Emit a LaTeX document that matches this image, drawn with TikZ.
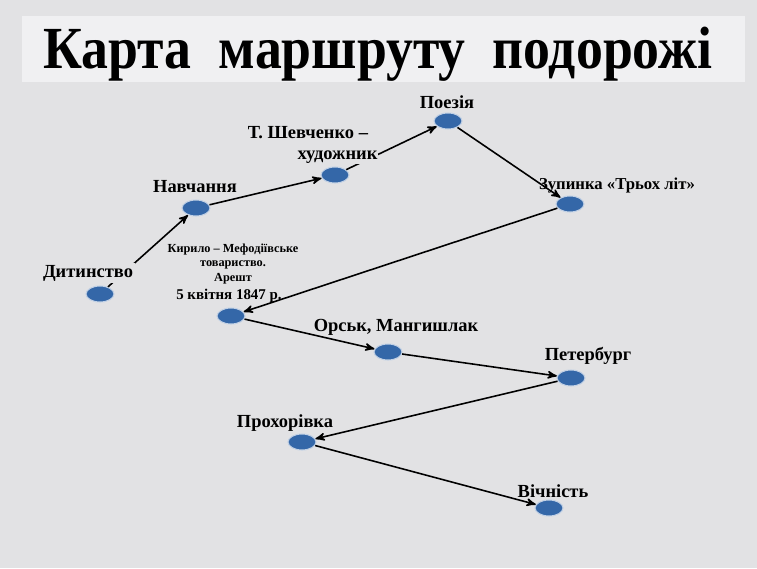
\documentclass[tikz,border=0pt]{standalone}
\usepackage{fontspec}
\setmainfont{Liberation Serif}
\usepackage{xcolor}
\usepackage{tikz}
\usetikzlibrary{shapes.geometric, arrows}

\definecolor{paper}{HTML}{E2E2E4}
\definecolor{band}{HTML}{F0F0F2}
\definecolor{stopblue}{HTML}{3467A8}

\begin{document}
\begin{tikzpicture}[x=0.02cm, y=-0.02cm,
  stop/.style={ellipse, draw=white!70!stopblue, fill=stopblue, line width=0.6pt,
    minimum width=0.56cm, minimum height=0.32cm, inner sep=0pt},
  place/.style={font=\bfseries\fontsize{10.5}{12}\selectfont, inner sep=1pt},
  smallplace/.style={font=\bfseries\fontsize{7}{8}\selectfont, align=center, inner sep=1pt},
  route/.style={->, >=stealth', line width=0.9pt}]

% Аркуш
\fill[paper] (0,0) rectangle (757,568);
\fill[band] (22,16) rectangle (745,82);
\useasboundingbox (0,0) rectangle (757,568);

% Заголовок
\node (title) at (378,54) {\scalebox{0.9}[1]{\bfseries\fontsize{34}{40}\selectfont Карта\ \ маршруту\ \ подорожі}};

% Зупинки
\node[stop] (dyt) at (100,294) {};
\node[stop] (nav) at (196,208) {};
\node[stop] (khud) at (335,175) {};
\node[stop] (poez) at (448,121) {};
\node[stop] (zup) at (570,204) {};
\node[stop] (kmt) at (231,316) {};
\node[stop] (orsk) at (388,352) {};
\node[stop] (peter) at (571,378) {};
\node[stop] (prokh) at (302,442) {};
\node[stop] (vich) at (549,508) {};

% Шлях
\draw[route] (dyt) -- (nav);
\draw[route] (nav) -- (khud);
\draw[route] (khud) -- (poez);
\draw[route] (poez) -- (zup);
\draw[route] (zup) -- (kmt);
\draw[route] (kmt) -- (orsk);
\draw[route] (orsk) -- (peter);
\draw[route] (peter) -- (prokh);
\draw[route] (prokh) -- (vich);

% Підписи
\node[place, fill=paper] (dytL) at (88,273) {Дитинство};
\node[place] (navL) at (195,187) {Навчання};
\node[place, fill=paper, align=center, inner sep=0.5pt] (khudL) at (308,145) {Т. Шевченко –\\\hspace*{3.2em}художник};
\node[place] (poezL) at (447,102) {Поезія};
\node[place, font=\bfseries\fontsize{9.5}{11}\selectfont] (zupL) at (617,186) {Зупинка «Трьох літ»};
\node[smallplace] (kmtL) at (233,264) {Кирило – Мефодіївське\\товариство.\\Арешт};
\node[place, font=\bfseries\fontsize{8.5}{10}\selectfont] (kmtD) at (229,296) {5 квітня 1847 р.};
\node[place] (orskL) at (396,327) {Орськ, Мангишлак};
\node[place] (peterL) at (588,356) {Петербург};
\node[place] (prokhL) at (285,423) {Прохорівка};
\node[place] (vichL) at (553,491) {Вічність};

\end{tikzpicture}
\end{document}
